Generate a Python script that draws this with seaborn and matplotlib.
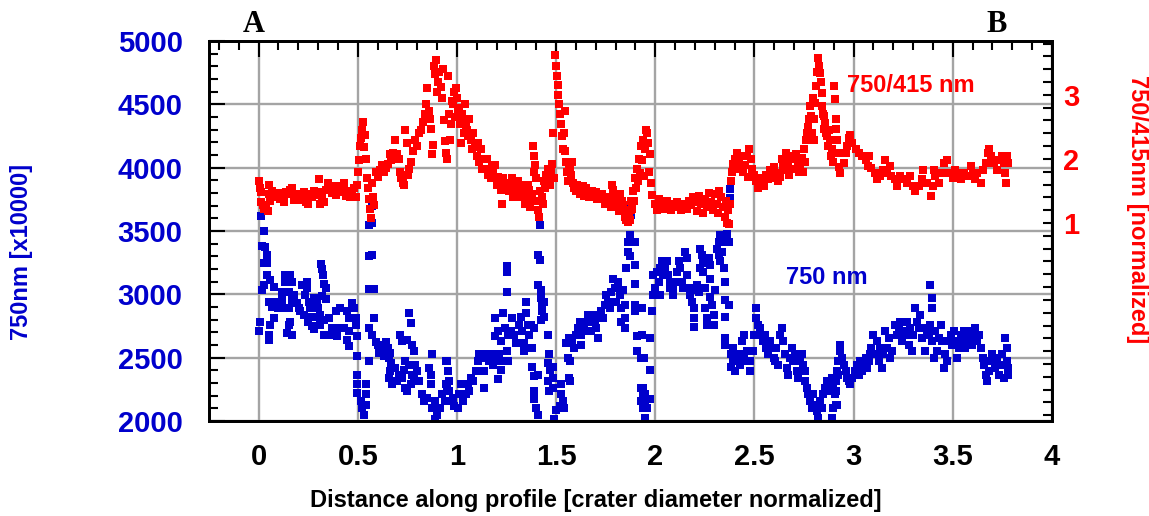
import matplotlib
matplotlib.use("Agg")
import matplotlib.pyplot as plt
import pandas as pd
import seaborn as sns
from matplotlib.ticker import MultipleLocator, FuncFormatter, FixedLocator

# ---------------- data: 750/415 nm ratio (right axis), (distance, ratio) ----------------
ratio_seg1 = [(0.00,1.65),(0.005,1.55),(0.01,1.48),(0.01,1.32),(0.02,1.28),(0.025,1.22),(0.035,1.25),(0.045,1.18),
    (0.05,1.60),(0.055,1.45),(0.06,1.35),(0.07,1.50),(0.08,1.45),(0.09,1.40),(0.10,1.47),(0.11,1.38),(0.12,1.42),
    (0.13,1.33),(0.14,1.48),(0.15,1.45),(0.16,1.52),(0.17,1.55),(0.18,1.36),(0.19,1.42),(0.20,1.45),(0.21,1.42),
    (0.22,1.36),(0.23,1.49),(0.24,1.33),(0.25,1.30),(0.26,1.45),(0.27,1.40),(0.28,1.50),(0.29,1.44),(0.30,1.48),
    (0.305,1.68),(0.31,1.30),(0.32,1.40),(0.33,1.32),(0.34,1.52),(0.35,1.62),(0.36,1.58),(0.37,1.47),(0.38,1.52),
    (0.39,1.44),(0.40,1.57),(0.41,1.48),(0.42,1.50),(0.43,1.62),(0.44,1.42),(0.45,1.50),(0.46,1.40),(0.47,1.46),
    (0.48,1.55),(0.49,1.40),(0.495,1.60)]
ratio_seg2 = [(0.50,1.80),(0.505,1.98),(0.51,2.20),(0.515,2.32),(0.52,2.45),(0.525,2.58),(0.53,2.18),(0.535,2.38),
    (0.54,2.00),(0.545,1.70),(0.55,1.55),(0.555,1.38),(0.56,1.22),(0.565,1.08),(0.57,1.62),(0.575,1.40),(0.58,1.28),
    (0.59,1.80),(0.60,1.72),(0.61,1.83),(0.62,1.90),(0.63,1.80),(0.64,1.86),(0.65,1.92),(0.66,2.08),(0.67,1.98),
    (0.68,2.10),(0.69,2.30),(0.70,2.08),(0.71,2.00),(0.715,1.80),(0.72,1.70),(0.73,1.62),(0.735,1.60),(0.74,2.45),
    (0.75,2.25),(0.755,1.75),(0.76,1.85),(0.77,1.95),(0.78,2.12),(0.79,2.30),(0.80,2.20),(0.81,2.40),(0.82,2.45),
    (0.83,2.58),(0.84,2.70),(0.845,2.86),(0.85,3.10),(0.86,2.75),(0.865,2.62),(0.87,2.46),(0.875,2.08),(0.88,2.22),
    (0.885,3.45),(0.89,3.32),(0.895,3.55),(0.90,3.05),(0.905,3.20),(0.91,3.35),(0.92,3.12),(0.925,2.95),(0.93,3.40),
    (0.935,2.60),(0.94,2.28),(0.945,2.10),(0.95,2.00),(0.955,3.30)]
ratio_seg3 = [(0.96,2.70),(0.965,2.30),(0.97,2.55),(0.975,2.90),(0.98,2.85),(0.985,3.05),(0.99,2.65),(0.995,3.10),
    (1.00,2.95),(1.005,2.75),(1.01,2.80),(1.015,2.55),(1.02,2.25),(1.025,2.70),(1.03,2.60),(1.035,2.40),(1.04,2.85),
    (1.045,2.50),(1.05,2.45),(1.055,2.35),(1.06,2.62),(1.07,2.30),(1.075,2.15),(1.08,2.40),(1.09,2.18),(1.10,2.05),
    (1.105,2.25),(1.11,1.95),(1.12,2.15),(1.125,1.85),(1.13,2.00),(1.14,1.85),(1.15,2.00),(1.155,1.75),(1.16,1.80),
    (1.17,1.70),(1.175,1.88),(1.18,1.78),(1.19,1.90),(1.20,1.60),(1.205,1.72),(1.21,1.65),(1.22,1.52),(1.225,1.30),
    (1.23,1.70),(1.24,1.58),(1.25,1.62),(1.26,1.50),(1.27,1.58),(1.28,1.70),(1.285,1.40),(1.29,1.45),(1.30,1.55),
    (1.31,1.65),(1.315,1.48),(1.32,1.40),(1.33,1.60),(1.34,1.50),(1.345,1.30),(1.35,1.42),(1.36,1.60),(1.365,1.52),
    (1.37,1.25),(1.375,1.38),(1.38,1.45),(1.385,2.20),(1.387,2.05),(1.39,1.80),(1.395,1.90),(1.40,1.70),(1.405,1.35),
    (1.41,1.20),(1.415,1.10),(1.42,1.50),(1.43,1.40),(1.435,1.30),(1.44,1.65),(1.445,1.55),(1.45,1.75),(1.455,1.62),
    (1.46,1.85),(1.47,1.60),(1.475,1.80),(1.48,1.92),(1.485,2.40),(1.49,1.70)]
ratio_seg4 = [(1.495,3.62),(1.50,3.45),(1.505,3.30),(1.51,3.15),(1.512,3.00),(1.515,2.85),(1.52,2.70),(1.525,2.55),
    (1.53,2.35),(1.535,2.15),(1.54,2.40),(1.545,2.75),(1.545,2.12),(1.55,1.95),(1.555,1.80),(1.56,1.65),(1.565,1.90),
    (1.57,1.85),(1.575,1.75),(1.58,1.95),(1.585,1.62),(1.59,1.55),(1.60,1.50),(1.605,1.60),(1.61,1.55),(1.62,1.45),
    (1.63,1.50),(1.635,1.58),(1.64,1.42),(1.65,1.55),(1.66,1.48),(1.665,1.40),(1.67,1.45),(1.68,1.50),(1.69,1.42),
    (1.70,1.48),(1.705,1.38),(1.71,1.40),(1.72,1.38),(1.73,1.45),(1.74,1.38),(1.745,1.30),(1.75,1.40),(1.76,1.30),
    (1.77,1.35),(1.775,1.25),(1.78,1.60),(1.785,1.52),(1.79,1.45),(1.80,1.38),(1.81,1.25),(1.815,1.18),(1.82,1.45),
    (1.83,1.35),(1.835,1.28),(1.84,1.20),(1.845,1.10),(1.85,1.05),(1.855,1.15),(1.86,1.02),(1.865,1.10),(1.87,1.05),
    (1.875,1.20),(1.88,1.35),(1.885,1.22),(1.89,1.50),(1.895,1.35),(1.90,1.70),(1.905,1.55),(1.91,1.85),(1.915,1.65),
    (1.92,2.00),(1.925,1.78),(1.93,2.20),(1.935,1.99),(1.94,2.30),(1.945,1.73),(1.95,2.15),(1.955,2.45),(1.96,2.40),
    (1.965,2.25),(1.97,1.80),(1.975,2.07),(1.98,1.62),(1.985,1.44)]
ratio_seg5 = [(2.00,1.30),(2.01,1.20),(2.02,1.38),(2.03,1.28),(2.04,1.33),(2.05,1.22),(2.06,1.35),(2.07,1.28),
    (2.08,1.20),(2.09,1.30),(2.10,1.25),(2.11,1.33),(2.12,1.28),(2.13,1.20),(2.14,1.25),(2.15,1.30),(2.16,1.22),
    (2.17,1.35),(2.18,1.28),(2.19,1.40),(2.20,1.32),(2.21,1.18),(2.22,1.42),(2.23,1.30),(2.24,1.15),(2.25,1.38),
    (2.26,1.25),(2.27,1.47),(2.28,1.33),(2.29,1.20),(2.30,1.45),(2.31,1.30),(2.315,1.15),(2.32,1.50),(2.33,1.40),
    (2.34,1.25),(2.35,1.10),(2.355,1.35),(2.36,1.00),(2.365,1.20),(2.37,0.98),(2.375,1.30)]
ratio_seg6 = [(2.38,1.65),(2.385,1.80),(2.39,1.92),(2.40,2.00),(2.41,2.10),(2.415,1.85),(2.42,1.95),(2.43,2.05),
    (2.44,1.80),(2.45,1.90),(2.46,2.05),(2.465,1.72),(2.47,2.15),(2.48,2.00),(2.49,1.85),(2.50,1.75),(2.51,1.65),
    (2.52,1.55),(2.53,1.70),(2.54,1.62),(2.55,1.58),(2.56,1.75),(2.57,1.68),(2.58,1.82),(2.59,1.70),(2.60,1.88),
    (2.61,1.78),(2.62,1.65),(2.63,1.72),(2.64,2.00),(2.645,1.90),(2.65,1.82),(2.66,2.10),(2.67,1.88),(2.675,1.75),
    (2.68,2.00),(2.69,2.05),(2.70,1.85),(2.71,2.08),(2.72,1.95),(2.725,1.80),(2.73,1.90),(2.74,2.02),(2.745,1.80),
    (2.75,2.15),(2.755,1.95)]
ratio_seg7 = [(2.76,2.30),(2.765,2.41),(2.77,2.50),(2.775,2.62),(2.78,2.82),(2.785,2.67),(2.79,2.41),(2.795,2.95),
    (2.80,2.62),(2.80,2.30),(2.805,2.88),(2.81,3.14),(2.815,3.35),(2.82,3.58),(2.825,3.45),(2.83,3.34),(2.835,3.20),
    (2.84,3.03),(2.84,2.82),(2.845,2.70),(2.85,2.67),(2.85,2.46),(2.855,2.56),(2.86,2.40),(2.865,2.35),(2.87,2.20),
    (2.875,2.45),(2.88,2.30),(2.885,2.05),(2.89,2.15),(2.895,1.95),(2.90,3.13),(2.905,2.93),(2.91,2.62),(2.91,2.46),
    (2.915,2.30),(2.92,2.09),(2.925,1.88),(2.93,1.78)]
ratio_seg8 = [(2.95,1.94),(2.96,2.09),(2.966,2.20),(2.975,2.33),(2.983,2.38),(2.99,2.25),(3.01,2.15),(3.025,2.09),
    (3.04,2.04),(3.06,1.99),(3.07,1.89),(3.075,2.04),(3.09,1.86),(3.11,1.78),(3.12,1.68),(3.135,1.73),(3.15,1.83),
    (3.16,1.99),(3.17,1.78),(3.185,1.89),(3.19,1.73),(3.21,1.68),(3.22,1.57),(3.235,1.73),(3.25,1.68),(3.27,1.63),
    (3.285,1.73),(3.30,1.57),(3.31,1.50),(3.33,1.57),(3.345,1.68),(3.35,1.83),(3.37,1.63),(3.39,1.42),(3.40,1.57),
    (3.405,1.83),(3.41,1.73),(3.43,1.63),(3.44,1.78),(3.455,1.94),(3.47,1.99),(3.48,1.78),(3.50,1.70),(3.51,1.83),
    (3.52,1.78),(3.54,1.68),(3.555,1.78),(3.57,1.73),(3.59,1.89),(3.60,1.78),(3.61,1.68),(3.62,1.78),(3.64,1.63),
    (3.65,1.83),(3.665,1.94),(3.675,2.09),(3.68,2.15),(3.69,2.04),(3.71,1.94),(3.725,1.83),(3.73,1.99),(3.75,2.04),
    (3.76,1.94),(3.765,1.78),(3.767,1.63),(3.775,2.04),(3.78,1.94)]

# ---------------- data: 750 nm signal (left axis), (distance, value) ----------------
nir_seg1 = [(0.013,3620),(0.025,3500),(0.017,3380),(0.034,3370),(0.042,3310),(0.025,3250),(0.042,3250),(0.042,3150),
    (0.06,3110),(0.025,3075),(0.017,3035),(0.076,3060),(0.05,2940),(0.067,2900),(0.084,2940),(0.10,2890),(0.076,2810),
    (0.059,2760),(0.008,2785),(0.0,2710),(0.05,2680),(0.05,2640),(0.135,3150),(0.16,3150),(0.135,3100),(0.168,3100),
    (0.118,3020),(0.152,3020),(0.177,2995),(0.118,2955),(0.168,2955),(0.126,2890),(0.152,2890),(0.194,2930),(0.202,2890),
    (0.21,2865),(0.227,2840),(0.16,2785),(0.152,2760),(0.143,2695),(0.168,2680),(0.22,3075),(0.244,3100),(0.244,3050),
    (0.236,2995),(0.253,2940),(0.261,2890),(0.278,2970),(0.295,2940),(0.30,2890),(0.31,2840),(0.32,2990),(0.33,2800),
    (0.29,2820),(0.26,2820),(0.25,2780),(0.27,2750),(0.28,2730),(0.31,2760),(0.33,2680),(0.315,3240),(0.32,3200),
    (0.325,3150),(0.33,3080),(0.34,3050),(0.34,2960),(0.354,2810),(0.39,2865),(0.41,2890),(0.446,2865),(0.455,2810),
    (0.47,2930),(0.48,2890),(0.49,2810),(0.49,2760),(0.37,2735),(0.40,2735),(0.43,2735),(0.354,2680),(0.396,2670),
    (0.455,2710),(0.446,2640),(0.455,2590),(0.497,2670)]
nir_seg2 = [(0.497,2510),(0.497,2365),(0.497,2290),(0.497,2220),(0.514,2155),(0.52,2105),(0.53,2050),(0.54,2290),
    (0.54,2210),(0.54,2130),(0.555,2470),(0.555,2735),(0.57,2680),(0.58,2810),(0.555,3040),(0.58,3040),(0.555,3300),
    (0.57,3310),(0.555,3545),(0.57,3560),(0.57,3700),(0.59,2620),(0.60,2600),(0.615,2575),(0.62,2560),(0.63,2600),
    (0.64,2620),(0.65,2575),(0.66,2540),(0.605,2540),(0.63,2510),(0.655,2500),(0.67,2460),(0.665,2395),(0.69,2420),
    (0.707,2365),(0.657,2340),(0.673,2290),(0.70,2315),(0.724,2340),(0.74,2260),(0.75,2235),(0.715,2680),(0.724,2630),
    (0.75,2640),(0.758,2850),(0.766,2770),(0.775,2600),(0.783,2550),(0.74,2470),(0.733,2405),(0.758,2445),(0.79,2445),
    (0.80,2395),(0.808,2315),(0.783,2340),(0.775,2365),(0.766,2290),(0.825,2210),(0.833,2155),(0.85,2185),(0.86,2420),
    (0.867,2365),(0.875,2525),(0.867,2290),(0.875,2105),(0.89,2155),(0.90,2050),(0.917,2105),(0.926,2210),(0.94,2155),
    (0.95,2470),(0.95,2260),(0.89,2015)]
nir_seg3 = [(0.944,2470),(0.953,2395),(0.96,2315),(0.944,2290),(0.96,2235),(0.953,2155),(0.98,2185),(0.986,2120),
    (1.003,2105),(1.01,2210),(1.02,2290),(1.03,2155),(1.045,2210),(1.054,2290),(1.062,2235),(1.07,2340),(1.08,2315),
    (1.096,2395),(1.105,2470),(1.113,2525),(1.13,2500),(1.138,2395),(1.138,2260),(1.146,2525),(1.163,2470),(1.17,2525),
    (1.18,2445),(1.197,2470),(1.205,2330),(1.214,2525),(1.222,2405),(1.23,2470),(1.25,2550),(1.256,2470),(1.19,2810),
    (1.19,2670),(1.205,2710),(1.222,2630),(1.23,2850),(1.24,2735),(1.25,3220),(1.25,3180),(1.25,3020),(1.256,2680),
    (1.273,2710),(1.28,2810),(1.29,2680),(1.30,2615),(1.315,2760),(1.323,2825),(1.33,2710),(1.34,2615),(1.34,2550),
    (1.35,2940),(1.35,2850),(1.357,2760),(1.365,2680),(1.38,2575),(1.374,2760),(1.39,2735),(1.38,2430),(1.39,2355),
    (1.39,2235),(1.39,2170),(1.40,2105),(1.41,2050),(1.41,2365),(1.41,3310),(1.42,3270),(1.41,3075),(1.424,3035),
    (1.424,2970),(1.43,2915),(1.44,2940),(1.43,2865),(1.44,2825),(1.424,2800),(1.42,3545),(1.458,2680),(1.458,2460),
    (1.466,2525),(1.47,2405),(1.458,2315),(1.466,2235),(1.485,2340),(1.485,2260),(1.485,2430)]
nir_seg4 = [(1.50,2090),(1.49,2015),(1.52,2120),(1.525,2290),(1.525,2210),(1.535,2155),(1.54,2105),(1.55,2615),
    (1.56,2500),(1.565,2655),(1.565,2340),(1.57,2315),(1.57,2470),(1.58,2615),(1.59,2575),(1.60,2680),(1.61,2735),
    (1.618,2785),(1.626,2680),(1.626,2600),(1.635,2720),(1.643,2775),(1.65,2710),(1.66,2840),(1.668,2785),(1.677,2710),
    (1.685,2840),(1.694,2785),(1.70,2735),(1.71,2655),(1.72,2810),(1.727,2865),(1.736,2810),(1.744,2915),(1.75,2995),
    (1.76,2940),(1.77,2890),(1.778,3020),(1.786,3125),(1.795,3050),(1.80,2940),(1.81,3100),(1.82,2995),(1.828,2890),
    (1.836,3035),(1.845,2915),(1.828,2785),(1.845,2810),(1.845,2735),(1.853,3205),(1.862,3415),(1.862,3335),(1.87,3470),
    (1.87,3300),(1.88,3625),(1.88,3730),(1.90,3415),(1.90,3230),(1.90,3085),(1.90,2915),(1.90,2865),(1.91,2670),
    (1.91,2550),(1.93,2500),(1.93,2260),(1.94,2210),(1.94,2105),(1.93,2155)]
nir_seg5 = [(1.933,2890),(1.933,2680),(1.945,2500),(1.94,2260),(1.948,2155),(1.95,2210),(1.958,2105),(1.95,2025),
    (1.975,2655),(1.975,2405),(1.975,2170),(1.983,2865),(1.99,2995),(2.0,3050),(1.99,3150),(2.008,3180),(2.017,3100),
    (2.025,2995),(2.025,3205),(2.033,3260),(2.04,3150),(2.05,3205),(2.06,3260),(2.066,3150),(2.075,3100),(2.075,3050),
    (2.09,2995),(2.09,3050),(2.10,3100),(2.11,3180),(2.117,3260),(2.126,3205),(2.134,3100),(2.142,3050),(2.15,3335),
    (2.16,3285),(2.16,3150),(2.168,3050),(2.176,2995),(2.185,2940),(2.193,2890),(2.193,2810),(2.193,2745),(2.20,3035),
    (2.21,3075),(2.218,3020),(2.227,3360),(2.235,3310),(2.227,3205),(2.243,3180),(2.243,3245),(2.25,3050),(2.25,2890),
    (2.26,2810),(2.26,2760),(2.27,3285),(2.277,3230),(2.277,3125),(2.277,2980),(2.285,2915),(2.294,2840),(2.294,2760),
    (2.30,3035),(2.31,3360),(2.32,3310),(2.32,3415),(2.327,3470),(2.327,3260),(2.335,3335),(2.344,3205),(2.35,3100),
    (2.35,2955),(2.35,2825),(2.36,3415),(2.36,3480),(2.37,3415),(2.37,2915),(2.375,3835),(2.375,3760)]
nir_seg6 = [(2.35,2655),(2.35,2600),(2.38,2525),(2.39,2470),(2.38,2430),(2.394,2575),(2.40,2395),(2.41,2470),
    (2.42,2525),(2.428,2445),(2.436,2630),(2.445,2525),(2.445,2680),(2.453,2470),(2.46,2550),(2.478,2470),(2.478,2395),
    (2.495,2550),(2.50,2680),(2.51,2810),(2.51,2890),(2.52,2760),(2.528,2735),(2.536,2680),(2.545,2630),(2.553,2680),
    (2.56,2575),(2.57,2525),(2.58,2630),(2.587,2575),(2.596,2500),(2.604,2470),(2.61,2575),(2.62,2445),(2.63,2680),
    (2.638,2735),(2.646,2630),(2.655,2525),(2.663,2420),(2.67,2365),(2.68,2500),(2.688,2575),(2.696,2470),(2.705,2525),
    (2.713,2395),(2.72,2340),(2.73,2470),(2.738,2525),(2.747,2445),(2.755,2395),(2.755,2315),(2.763,2260),(2.77,2210),
    (2.78,2155),(2.788,2105),(2.797,2210),(2.805,2130),(2.813,2080),(2.82,2025),(2.83,2155),(2.838,2105),(2.847,2210),
    (2.855,2260),(2.864,2315),(2.87,2235),(2.88,2290),(2.89,2340),(2.898,2290),(2.905,2210),(2.915,2130),(2.898,2105),
    (2.92,2365),(2.92,2470),(2.93,2550),(2.89,2025)]
nir_seg7 = [(2.91,2315),(2.91,2235),(2.91,2130),(2.916,2395),(2.925,2470),(2.933,2600),(2.94,2500),(2.95,2445),
    (2.96,2395),(2.966,2340),(2.975,2315),(2.983,2290),(2.99,2340),(3.008,2395),(3.017,2445),(3.025,2365),(3.034,2470),
    (3.042,2395),(3.05,2445),(3.06,2500),(3.067,2420),(3.076,2470),(3.084,2525),(3.09,2575),(3.10,2680),(3.11,2525),
    (3.118,2630),(3.126,2470),(3.135,2575),(3.143,2420),(3.15,2525),(3.16,2710),(3.168,2575),(3.177,2655),(3.185,2500),
    (3.194,2550),(3.21,2760),(3.22,2680),(3.227,2735),(3.236,2785),(3.244,2630),(3.25,2710),(3.26,2680),(3.27,2785),
    (3.278,2600),(3.286,2735),(3.295,2550),(3.30,2680),(3.31,2890),(3.32,2785),(3.328,2735),(3.337,2840),(3.345,2655),
    (3.354,2735),(3.36,2550),(3.37,2710),(3.38,2680),(3.387,3075),(3.395,2970),(3.395,2890),(3.387,2760),(3.395,2630),
    (3.404,2500),(3.41,2710),(3.42,2550),(3.43,2655),(3.44,2760),(3.445,2630),(3.455,2420),(3.463,2525),(3.47,2470),
    (3.48,2630),(3.49,2680),(3.497,2600),(3.505,2710),(3.513,2630),(3.52,2500),(3.53,2575),(3.54,2680),(3.547,2630),
    (3.555,2710),(3.563,2575),(3.57,2655),(3.58,2630),(3.59,2710),(3.598,2600),(3.606,2680),(3.614,2735),(3.62,2630),
    (3.63,2680),(3.64,2575),(3.65,2500),(3.656,2445),(3.665,2365),(3.673,2315),(3.68,2395),(3.69,2470),(3.70,2525),
    (3.707,2470),(3.715,2420),(3.724,2500),(3.732,2365),(3.74,2445),(3.75,2525),(3.757,2340),(3.765,2655),(3.774,2575),
    (3.774,2470),(3.78,2420),(3.78,2365)]

x_ticks_major = 0.5
ratio_tick_values = [1, 2, 3]

BLUE = "#0000CC"
RED = "#FF0000"

ratio_df = pd.DataFrame(ratio_seg1 + ratio_seg2 + ratio_seg3 + ratio_seg4 + ratio_seg5 +
                        ratio_seg6 + ratio_seg7 + ratio_seg8, columns=["distance", "ratio"])
nir_df = pd.DataFrame(nir_seg1 + nir_seg2 + nir_seg3 + nir_seg4 + nir_seg5 + nir_seg6 + nir_seg7,
                      columns=["distance", "value"])

sns.set_style("white")
plt.rcParams["font.family"] = ["Liberation Sans", "DejaVu Sans"]
plt.rcParams["font.weight"] = "bold"
plt.rcParams["text.color"] = "black"
plt.rcParams["axes.labelcolor"] = "black"
plt.rcParams["xtick.color"] = "black"
plt.rcParams["ytick.color"] = "black"

fig = plt.figure(figsize=(11.49, 5.16), dpi=100)
ax = fig.add_axes([209 / 1149, 95 / 516, 843 / 1149, 380 / 516])
ax2 = ax.twinx()

sns.scatterplot(data=nir_df, x="distance", y="value", ax=ax, marker="s", s=27,
                color=BLUE, linewidth=0, legend=False)
sns.scatterplot(data=ratio_df, x="distance", y="ratio", ax=ax2, marker="s", s=27,
                color=RED, linewidth=0, legend=False)

ax.set_xlim(-0.25, 4)
ax.set_ylim(2000, 5000)
ax2.set_ylim(-2.09, 3.84)

ax.xaxis.set_major_locator(MultipleLocator(x_ticks_major))
ax.xaxis.set_minor_locator(MultipleLocator(0.1))
ax.xaxis.set_major_formatter(FuncFormatter(lambda v, p: f"{v:g}"))
ax.yaxis.set_major_locator(MultipleLocator(500))
ax.yaxis.set_minor_locator(MultipleLocator(100))
ax2.yaxis.set_major_locator(FixedLocator(ratio_tick_values))
ax2.yaxis.set_minor_locator(MultipleLocator(0.2))

ax.tick_params(which="major", direction="in", length=11.5, width=1.5, top=True, right=False, color="black")
ax.tick_params(which="minor", direction="in", length=6.5, width=1.5, top=True, right=False, color="black")
ax.tick_params(axis="x", labelsize=21, pad=16, labelcolor="black")
ax.tick_params(axis="y", labelsize=21, pad=19, labelcolor=BLUE)
ax2.tick_params(axis="y", which="both", direction="in", length=6.5, width=1.5, color="black",
                labelsize=21, pad=8, labelcolor=RED)

ax.grid(True, which="major", color="#A4A4A4", linewidth=1.7)
ax.set_axisbelow(True)
ax2.grid(False)
for a in (ax, ax2):
    for sp in a.spines.values():
        sp.set_linewidth(2)
        sp.set_color("black")

ax.set_xlabel("Distance along profile [crater diameter normalized]", fontsize=17,
              fontweight="bold", color="black", va="center")
ax.xaxis.set_label_coords(0.4585, -0.208)
ax.set_ylabel("750nm [x10000]", fontsize=17, fontweight="bold", color=BLUE, va="center")
ax.yaxis.set_label_coords(-0.222, 0.445)
ax2.set_ylabel("750/415nm [normalized]", fontsize=17, fontweight="bold", color=RED,
               rotation=270, va="center")
ax2.yaxis.set_label_coords(1.101, 0.558)

trans = ax.get_xaxis_transform()
ax.text(-0.025, 1.024, "A", transform=trans, family="Liberation Serif", fontsize=22,
        fontweight="bold", color="black", ha="center", va="baseline")
ax.text(3.72, 1.024, "B", transform=trans, family="Liberation Serif", fontsize=22,
        fontweight="bold", color="black", ha="center", va="baseline")
ax.text(2.965, 4646, "750/415 nm", color=RED, fontsize=17, fontweight="bold", ha="left", va="center")
ax.text(2.66, 3130, "750 nm", color=BLUE, fontsize=17, fontweight="bold", ha="left", va="center")

fig.savefig("out.png", dpi=100)
